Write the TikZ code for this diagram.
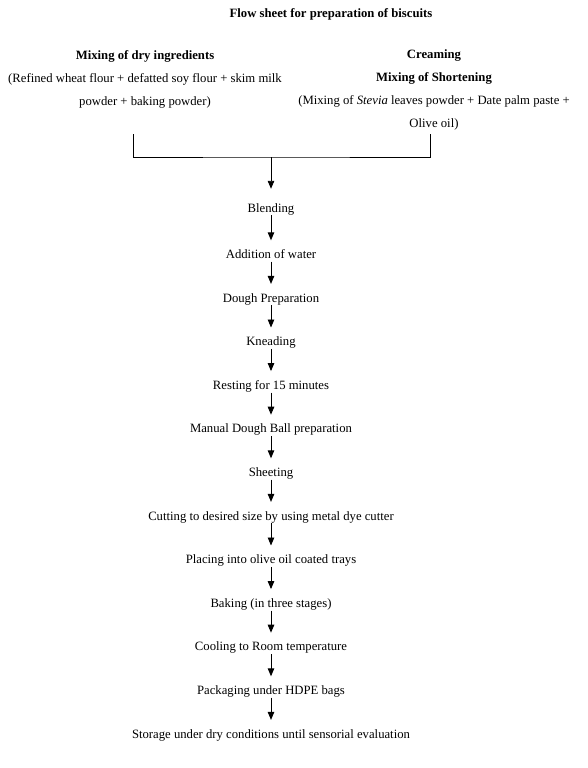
\documentclass[tikz,border=0pt]{standalone}
\usepackage{fontspec}
\setmainfont{Liberation Serif}
\usetikzlibrary{positioning, arrows.meta}

\begin{document}
\begin{tikzpicture}[x=1pt, y=1pt, node distance=43.6pt, on grid,
    every node/.style={font=\fontsize{12.7}{23}\selectfont},
    stage/.style={inner sep=0pt, text height=9pt, text depth=3pt},
    flow/.style={-{Triangle[length=8pt,width=6.5pt]}, line width=0.9pt, shorten >=9pt}]
   \useasboundingbox (0,0) rectangle (588,-768);

   % heading and the two ingredient groups
   \node[font=\bfseries\fontsize{12.7}{23}\selectfont] (title) at (331,-14) {Flow sheet for preparation of biscuits};
   \node[align=center] (dry) at (145,-79)
      {\textbf{Mixing of dry ingredients}\\(Refined wheat flour + defatted soy flour + skim milk\\powder + baking powder)};
   \node[align=center] (cream) at (434,-90)
      {\textbf{Creaming}\\\textbf{Mixing of Shortening}\\(Mixing of \textit{Stevia} leaves powder + Date palm paste +\\Olive oil)};

   % bracket joining both groups
   \coordinate (dry_end)   at (133,-134);
   \coordinate (cream_end) at (430,-134);
   \coordinate (join)      at (271,-157);
   \draw[line width=0.9pt] (dry_end) |- (join) -| (cream_end);

   % process steps
   \node[stage] (s_1) at (271,-209) {Blending};
   \node[stage] (s_2) [below=46.5pt of s_1] {Addition of water};
   \node[stage] (s_3) [below=of s_2] {Dough Preparation};
   \node[stage] (s_4) [below=of s_3] {Kneading};
   \node[stage] (s_5) [below=of s_4] {Resting for 15 minutes};
   \node[stage] (s_6) [below=of s_5] {Manual Dough Ball preparation};
   \node[stage] (s_7) [below=of s_6] {Sheeting};
   \node[stage] (s_8) [below=of s_7] {Cutting to desired size by using metal dye cutter};
   \node[stage] (s_9) [below=of s_8] {Placing into olive oil coated trays};
   \node[stage] (s_10) [below=of s_9] {Baking (in three stages)};
   \node[stage] (s_11) [below=of s_10] {Cooling to Room temperature};
   \node[stage] (s_12) [below=of s_11] {Packaging under HDPE bags};
   \node[stage] (s_13) [below=of s_12] {Storage under dry conditions until sensorial evaluation};

   \path[flow]
    (join) edge [shorten >=14pt] (s_1)
    (s_1) edge (s_2)
    (s_2) edge (s_3)
    (s_3) edge (s_4)
    (s_4) edge (s_5)
    (s_5) edge (s_6)
    (s_6) edge (s_7)
    (s_7) edge (s_8)
    (s_8) edge (s_9)
    (s_9) edge (s_10)
    (s_10) edge (s_11)
    (s_11) edge (s_12)
    (s_12) edge (s_13)
    ;
\end{tikzpicture}
\end{document}
